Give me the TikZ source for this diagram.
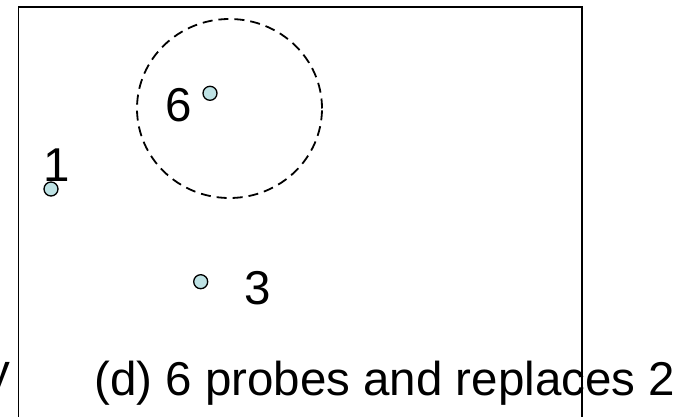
\documentclass[tikz,border=0pt]{standalone}
\usepackage{fontspec}
\setmainfont{Liberation Sans}
\usepackage{xcolor}
\usepackage{tikz}
\definecolor{probefill}{RGB}{190,226,228}

\begin{document}
\begin{tikzpicture}[x=1pt,y=-1pt,
  probe/.style={circle,draw,line width=1.3pt,fill=probefill,minimum size=14pt,inner sep=0pt},
  lab/.style={anchor=base,inner sep=0pt,font=\fontsize{47.5}{50}\selectfont}]
  \useasboundingbox(0,0)rectangle(689,417);
  \clip(0,0)rectangle(689,417);
  \draw[line width=1.6pt](18.5,430)--(18.5,7.3)--(582,7.3)--(582,430);
  \draw[line width=1.8pt,dash pattern=on 10pt off 6pt](229.5,108.5)ellipse[x radius=92.5pt,y radius=89.5pt];
  \foreach \n/\px/\py/\lx/\ly in {1/51/189/57/182,6/210/93.3/179/122,3/200.7/281.7/258/305}{
    \node[probe](p\n)at(\px,\py){};
    \node[lab](t\n)at(\lx,\ly){\n};
  }
  \node[lab,anchor=base west](prev)at(-14,387){y};
  \node[lab,anchor=base west](cap)at(94,395){(d) 6 probes and replaces 2};
\end{tikzpicture}
\end{document}
